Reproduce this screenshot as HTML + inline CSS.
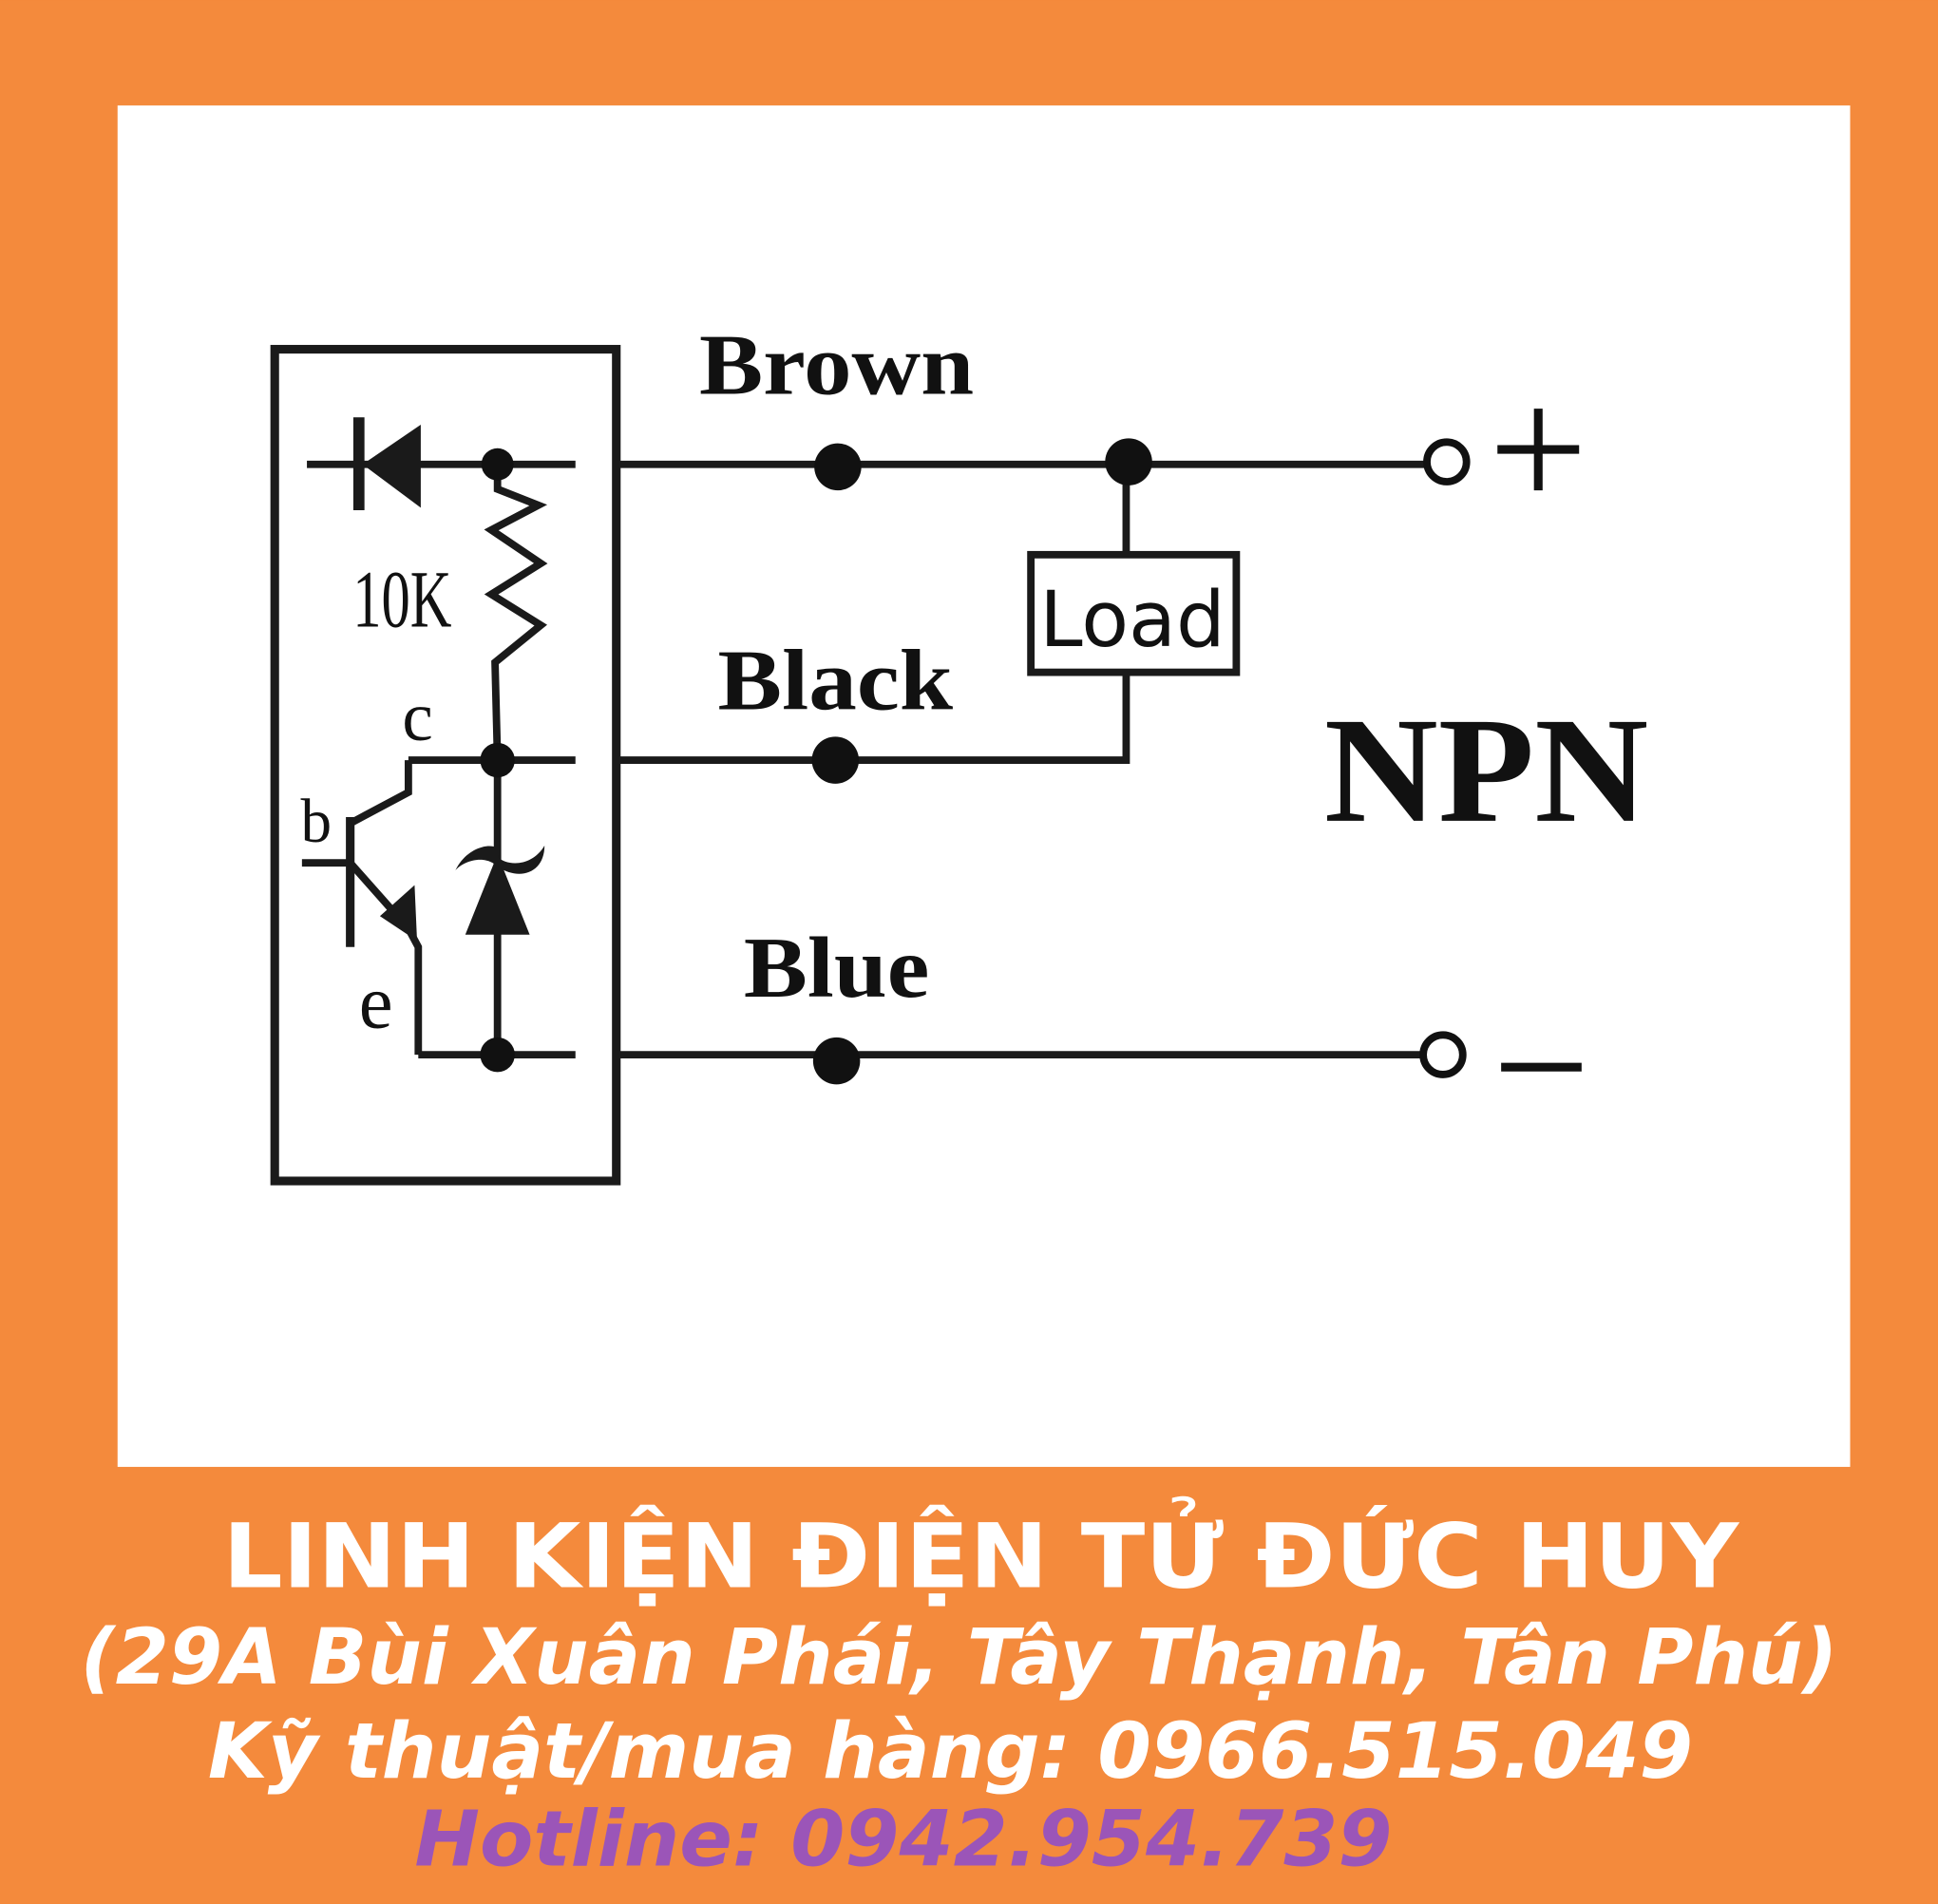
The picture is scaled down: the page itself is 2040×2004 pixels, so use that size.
<!DOCTYPE html>
<html><head><meta charset="utf-8"><style>
html,body{margin:0;padding:0;background:#F5883A}
svg{display:block}
</style></head><body>
<svg width="2040" height="2004" viewBox="0 0 1566 1538" xmlns="http://www.w3.org/2000/svg">
<rect x="0" y="0" width="1566" height="1538" fill="#F48A3C"/>
<rect x="95" y="85" width="1400" height="1100" fill="#fff"/>
<g stroke="#1a1a1a" stroke-width="6" fill="none">
<rect x="222" y="282" width="276" height="672" stroke-width="7"/>
<line x1="248" y1="375" x2="465" y2="375"/>
<line x1="500" y1="375" x2="1160" y2="375"/>
<line x1="910" y1="375" x2="910" y2="448"/>
<rect x="833" y="448" width="166" height="95"/>
<polyline points="910,543 910,614 500,614"/>
<line x1="330" y1="614" x2="465" y2="614"/>
<line x1="500" y1="852" x2="1155" y2="852"/>
<line x1="338" y1="852" x2="465" y2="852"/>
<polyline points="402,375 402,395 435,408 397,428 437,455 397,480 437,505 400,535 402,614 402,852"/>
<polyline points="330,614 330,640 283,665"/>
<line x1="244" y1="697" x2="283" y2="697"/>
<line x1="283" y1="660" x2="283" y2="765" stroke-width="7"/>
<polyline points="283,697 330,750 338,765 338,852"/>
</g>
<line x1="290" y1="337" x2="290" y2="412" stroke="#1a1a1a" stroke-width="9"/>
<polygon points="293,375 340,343 340,410" fill="#1a1a1a"/>
<polygon points="307,740 335,715 337,760" fill="#1a1a1a"/>
<polygon points="402,690 428,755 376,755" fill="#1a1a1a"/>
<path d="M368,703 C380,678 410,680 402,692 C410,700 430,700 440,683 C440,705 420,712 402,700 C392,690 375,695 368,703Z" fill="#1a1a1a"/>
<g fill="#111">
<circle cx="402" cy="375" r="13"/><circle cx="402" cy="614" r="14"/><circle cx="402" cy="852" r="14"/>
<circle cx="677" cy="377" r="19"/><circle cx="675" cy="614" r="19"/><circle cx="676" cy="857" r="19"/>
<circle cx="912" cy="373" r="19"/>
</g>
<circle cx="1169" cy="373" r="16" fill="#fff" stroke="#111" stroke-width="6"/>
<circle cx="1166" cy="852" r="16" fill="#fff" stroke="#111" stroke-width="6"/>
<line x1="1210" y1="363" x2="1276" y2="363" stroke="#111" stroke-width="7"/>
<line x1="1243" y1="330" x2="1243" y2="396" stroke="#111" stroke-width="7"/>
<line x1="1213" y1="862" x2="1278" y2="862" stroke="#111" stroke-width="7"/>
<g font-family="Liberation Serif, serif" font-weight="bold" fill="#111">
<text x="565" y="318" font-size="70" textLength="222" lengthAdjust="spacingAndGlyphs">Brown</text>
<text x="580" y="573" font-size="70" textLength="190" lengthAdjust="spacingAndGlyphs">Black</text>
<text x="601" y="805" font-size="70" textLength="150" lengthAdjust="spacingAndGlyphs">Blue</text>
<text x="1070" y="663" font-size="122" textLength="262" lengthAdjust="spacingAndGlyphs">NPN</text>
</g>
<g font-family="Liberation Serif, serif" fill="#111">
<text x="285" y="506" font-size="66" textLength="80" lengthAdjust="spacingAndGlyphs">10K</text>
<text x="325" y="598" font-size="56">c</text>
<text x="243" y="680" font-size="50">b</text>
<text x="290" y="830" font-size="62">e</text>
</g>
<text x="840" y="522" font-family="DejaVu Sans, sans-serif" font-size="62" fill="#111" textLength="150" lengthAdjust="spacingAndGlyphs">Load</text>
<g font-family="DejaVu Sans, sans-serif" font-weight="bold" fill="#fff">
<text x="180" y="1282" font-size="72" textLength="1225" lengthAdjust="spacingAndGlyphs">LINH KIỆN ĐIỆN TỬ ĐỨC HUY</text>
<text x="65" y="1360" font-size="62" font-style="italic" textLength="1420" lengthAdjust="spacingAndGlyphs">(29A Bùi Xuân Phái, Tây Thạnh, Tân Phú)</text>
<text x="168" y="1436" font-size="62" font-style="italic" textLength="1200" lengthAdjust="spacingAndGlyphs">Kỹ thuật/mua hàng: 0966.515.049</text>
<text x="335" y="1507" font-size="62" font-style="italic" fill="#9B55B8" textLength="790" lengthAdjust="spacingAndGlyphs">Hotline:  0942.954.739</text>
</g>
</svg>
</body></html>
